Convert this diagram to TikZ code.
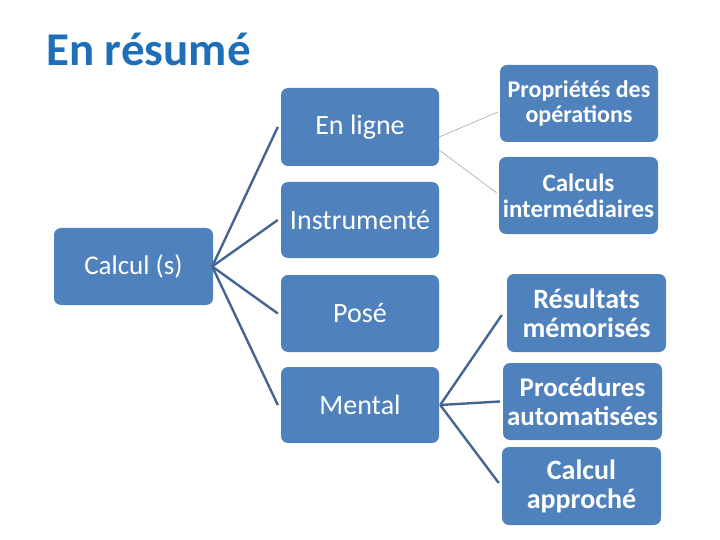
\documentclass[tikz,border=0pt]{standalone}
\usepackage{fontspec}
\setmainfont{Carlito}
\begin{document}
\begin{tikzpicture}[x=1pt,y=-1pt,
  box/.style={fill=boxblue, rounded corners=7pt, text=white, align=center, inner sep=0pt},
  thick link/.style={draw=linkblue, line width=2.4pt},
  thin link/.style={draw=gray!80, line width=0.5pt}]
\definecolor{boxblue}{HTML}{4F81BD}
\definecolor{linkblue}{HTML}{45658F}
\definecolor{titleblue}{HTML}{1F6FB8}
\useasboundingbox (0,0) rectangle (720,540);
\node[anchor=base west, text=titleblue, font=\bfseries\fontsize{47}{52}\selectfont, inner sep=0pt] (title) at (46,66) {En résumé};
% root
\node[box, minimum width=159pt, minimum height=77pt, font=\fontsize{27}{30}\selectfont] (root) at (133.5,266.5) {Calcul (s)};
% left column
\node[box, minimum width=158pt, minimum height=78pt, font=\fontsize{28}{30}\selectfont] (enligne) at (360,127) {En ligne};
\node[box, minimum width=158pt, minimum height=76pt, font=\fontsize{28}{30}\selectfont] (instr) at (360,220) {Instrumenté};
\node[box, minimum width=158pt, minimum height=77pt, font=\fontsize{28}{30}\selectfont] (pose) at (360,313.5) {Posé};
\node[box, minimum width=158pt, minimum height=76pt, font=\fontsize{28}{30}\selectfont] (mental) at (360,405) {Mental};
% right column
\node[box, minimum width=158pt, minimum height=77pt, font=\bfseries\fontsize{24}{25}\selectfont] (prop) at (579,103.5) {Propriétés des\\opérations};
\node[box, minimum width=159pt, minimum height=77pt, font=\bfseries\fontsize{25}{26}\selectfont] (inter) at (578.5,195.5) {Calculs\\intermédiaires};
\node[box, minimum width=159pt, minimum height=78pt, font=\bfseries\fontsize{28}{29}\selectfont] (result) at (586.5,313) {Résultats\\mémorisés};
\node[box, minimum width=159pt, minimum height=77pt, font=\bfseries\fontsize{27}{29}\selectfont] (proc) at (582.5,401.5) {Procédures\\automatisées};
\node[box, minimum width=159pt, minimum height=78pt, font=\bfseries\fontsize{28}{29}\selectfont] (approx) at (581.5,486) {Calcul\\approché};
% thick connectors from root
\draw[thick link] ([xshift=-1pt]root.east) -- ([xshift=-3pt]enligne.west);
\draw[thick link] ([xshift=-1pt]root.east) -- ([xshift=-3pt]instr.west);
\draw[thick link] ([xshift=-1pt]root.east) -- ([xshift=-3pt]pose.west);
\draw[thick link] ([xshift=-1pt]root.east) -- ([xshift=-3pt]mental.west);
% thick connectors from Mental
\draw[thick link] ([xshift=1pt]mental.east) -- ([xshift=-5pt,yshift=-2pt]result.west);
\draw[thick link] ([xshift=1pt]mental.east) -- ([xshift=-3pt]proc.west);
\draw[thick link] ([xshift=1pt]mental.east) -- ([xshift=-3pt,yshift=3pt]approx.west);
% thin connectors from En ligne
\draw[thin link] ([yshift=-10pt]enligne.east) -- ([xshift=-2pt,yshift=-8.5pt]prop.west);
\draw[thin link] ([yshift=-23pt]enligne.east) -- ([xshift=-2pt,yshift=2.5pt]inter.west);
\end{tikzpicture}
\end{document}
